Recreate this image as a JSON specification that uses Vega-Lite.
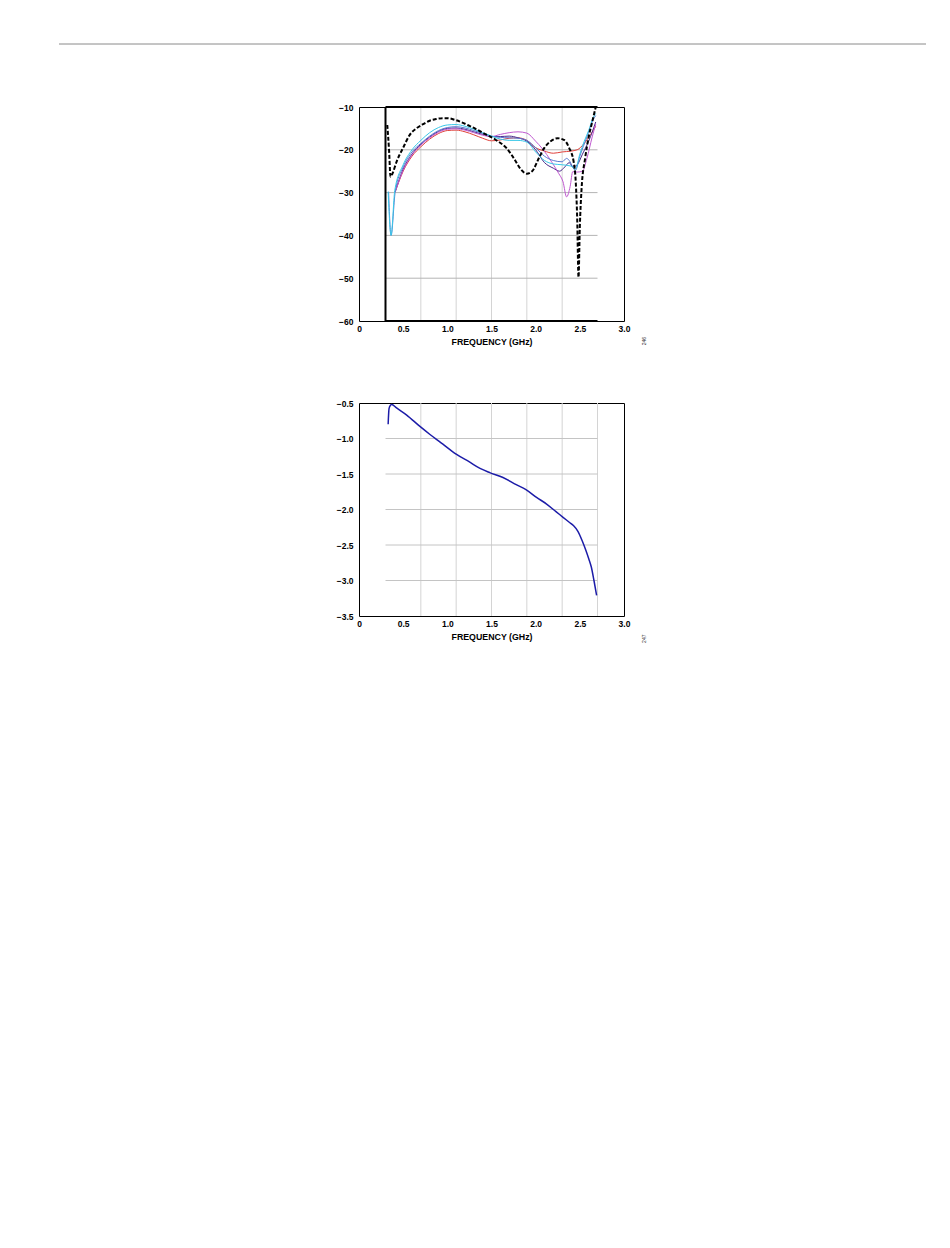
{
  "$schema": "https://vega.github.io/schema/vega-lite/v6.json",
  "padding": {"left": 58, "top": 43, "right": 5, "bottom": 5},
  "background": "white",
  "spacing": 51,
  "datasets": {
    "vgrid1": [{"g": 0.7}, {"g": 1.1}, {"g": 1.5}, {"g": 1.9}, {"g": 2.3}],
    "vgrid2": [{"g": 0.7}, {"g": 1.1}, {"g": 1.5}, {"g": 1.9}, {"g": 2.3}, {"g": 2.7}],
    "hgrid1": [{"g": -20}, {"g": -30}, {"g": -40}, {"g": -50}],
    "hgrid2": [{"g": -1.0}, {"g": -1.5}, {"g": -2.0}, {"g": -2.5}, {"g": -3.0}],
    "frame1": [
      {"x": 0.3, "x2": 2.7, "y": -10, "y2": -10},
      {"x": 0.3, "x2": 2.7, "y": -60, "y2": -60},
      {"x": 0.3, "x2": 0.3, "y": -60, "y2": -10}
    ],
    "s11": [
      {"s": "red", "f": 0.41, "v": -29.8}, {"s": "red", "f": 0.5, "v": -25}, {"s": "red", "f": 0.6, "v": -21.5}, {"s": "red", "f": 0.7, "v": -19.3}, {"s": "red", "f": 0.8, "v": -17.5}, {"s": "red", "f": 0.9, "v": -16.2}, {"s": "red", "f": 1.0, "v": -15.5}, {"s": "red", "f": 1.1, "v": -15.4}, {"s": "red", "f": 1.2, "v": -15.8}, {"s": "red", "f": 1.3, "v": -16.5}, {"s": "red", "f": 1.4, "v": -17.3}, {"s": "red", "f": 1.5, "v": -17.9}, {"s": "red", "f": 1.6, "v": -17.7}, {"s": "red", "f": 1.7, "v": -17.3}, {"s": "red", "f": 1.8, "v": -17.2}, {"s": "red", "f": 1.9, "v": -17.8}, {"s": "red", "f": 2.0, "v": -19.5}, {"s": "red", "f": 2.1, "v": -20.3}, {"s": "red", "f": 2.2, "v": -20.8}, {"s": "red", "f": 2.3, "v": -20.5}, {"s": "red", "f": 2.4, "v": -20.3}, {"s": "red", "f": 2.47, "v": -20}, {"s": "red", "f": 2.55, "v": -18.5}, {"s": "red", "f": 2.62, "v": -16.5}, {"s": "red", "f": 2.68, "v": -14.5},
      {"s": "purple", "f": 0.41, "v": -29.8}, {"s": "purple", "f": 0.5, "v": -24.5}, {"s": "purple", "f": 0.6, "v": -21}, {"s": "purple", "f": 0.7, "v": -18.7}, {"s": "purple", "f": 0.8, "v": -17}, {"s": "purple", "f": 0.9, "v": -15.7}, {"s": "purple", "f": 1.0, "v": -15}, {"s": "purple", "f": 1.1, "v": -14.9}, {"s": "purple", "f": 1.2, "v": -15.2}, {"s": "purple", "f": 1.3, "v": -15.8}, {"s": "purple", "f": 1.4, "v": -16.4}, {"s": "purple", "f": 1.5, "v": -16.9}, {"s": "purple", "f": 1.6, "v": -16.9}, {"s": "purple", "f": 1.7, "v": -16.8}, {"s": "purple", "f": 1.8, "v": -17.2}, {"s": "purple", "f": 1.9, "v": -18}, {"s": "purple", "f": 2.0, "v": -20}, {"s": "purple", "f": 2.1, "v": -23}, {"s": "purple", "f": 2.2, "v": -24.3}, {"s": "purple", "f": 2.27, "v": -25}, {"s": "purple", "f": 2.33, "v": -24}, {"s": "purple", "f": 2.38, "v": -23}, {"s": "purple", "f": 2.42, "v": -24}, {"s": "purple", "f": 2.47, "v": -23.5}, {"s": "purple", "f": 2.53, "v": -21}, {"s": "purple", "f": 2.6, "v": -18}, {"s": "purple", "f": 2.68, "v": -13.5},
      {"s": "magenta", "f": 0.41, "v": -29.8}, {"s": "magenta", "f": 0.5, "v": -24.8}, {"s": "magenta", "f": 0.6, "v": -21.2}, {"s": "magenta", "f": 0.7, "v": -18.9}, {"s": "magenta", "f": 0.8, "v": -17.2}, {"s": "magenta", "f": 0.9, "v": -15.9}, {"s": "magenta", "f": 1.0, "v": -15.2}, {"s": "magenta", "f": 1.1, "v": -15.1}, {"s": "magenta", "f": 1.2, "v": -15.4}, {"s": "magenta", "f": 1.3, "v": -16}, {"s": "magenta", "f": 1.4, "v": -16.6}, {"s": "magenta", "f": 1.5, "v": -16.9}, {"s": "magenta", "f": 1.6, "v": -16.4}, {"s": "magenta", "f": 1.7, "v": -16}, {"s": "magenta", "f": 1.8, "v": -15.8}, {"s": "magenta", "f": 1.9, "v": -16.1}, {"s": "magenta", "f": 2.0, "v": -18}, {"s": "magenta", "f": 2.07, "v": -19.6}, {"s": "magenta", "f": 2.18, "v": -22.8}, {"s": "magenta", "f": 2.26, "v": -25.5}, {"s": "magenta", "f": 2.31, "v": -27.5}, {"s": "magenta", "f": 2.35, "v": -31}, {"s": "magenta", "f": 2.39, "v": -28.6}, {"s": "magenta", "f": 2.42, "v": -25.1}, {"s": "magenta", "f": 2.47, "v": -25.2}, {"s": "magenta", "f": 2.53, "v": -25}, {"s": "magenta", "f": 2.58, "v": -22}, {"s": "magenta", "f": 2.64, "v": -17}, {"s": "magenta", "f": 2.68, "v": -14},
      {"s": "blue", "f": 0.335, "v": -29.8}, {"s": "blue", "f": 0.363, "v": -40}, {"s": "blue", "f": 0.41, "v": -29.8}, {"s": "blue", "f": 0.5, "v": -24}, {"s": "blue", "f": 0.6, "v": -20.5}, {"s": "blue", "f": 0.7, "v": -18.5}, {"s": "blue", "f": 0.8, "v": -16.8}, {"s": "blue", "f": 0.9, "v": -15.5}, {"s": "blue", "f": 1.0, "v": -14.8}, {"s": "blue", "f": 1.1, "v": -14.6}, {"s": "blue", "f": 1.2, "v": -14.9}, {"s": "blue", "f": 1.3, "v": -15.5}, {"s": "blue", "f": 1.4, "v": -16.2}, {"s": "blue", "f": 1.5, "v": -16.8}, {"s": "blue", "f": 1.6, "v": -17.1}, {"s": "blue", "f": 1.7, "v": -17.2}, {"s": "blue", "f": 1.8, "v": -17.3}, {"s": "blue", "f": 1.9, "v": -17.8}, {"s": "blue", "f": 2.0, "v": -19.5}, {"s": "blue", "f": 2.1, "v": -21.5}, {"s": "blue", "f": 2.2, "v": -22.5}, {"s": "blue", "f": 2.3, "v": -22.8}, {"s": "blue", "f": 2.35, "v": -22}, {"s": "blue", "f": 2.38, "v": -22.5}, {"s": "blue", "f": 2.42, "v": -24}, {"s": "blue", "f": 2.45, "v": -24.8}, {"s": "blue", "f": 2.5, "v": -21.5}, {"s": "blue", "f": 2.58, "v": -17}, {"s": "blue", "f": 2.65, "v": -13}, {"s": "blue", "f": 2.68, "v": -12},
      {"s": "cyan", "f": 0.33, "v": -29.8}, {"s": "cyan", "f": 0.363, "v": -40}, {"s": "cyan", "f": 0.405, "v": -29.5}, {"s": "cyan", "f": 0.5, "v": -23.5}, {"s": "cyan", "f": 0.6, "v": -20}, {"s": "cyan", "f": 0.7, "v": -17.8}, {"s": "cyan", "f": 0.8, "v": -16}, {"s": "cyan", "f": 0.9, "v": -14.8}, {"s": "cyan", "f": 1.0, "v": -14.2}, {"s": "cyan", "f": 1.1, "v": -14.1}, {"s": "cyan", "f": 1.2, "v": -14.5}, {"s": "cyan", "f": 1.3, "v": -15.2}, {"s": "cyan", "f": 1.4, "v": -16}, {"s": "cyan", "f": 1.5, "v": -16.8}, {"s": "cyan", "f": 1.6, "v": -17.5}, {"s": "cyan", "f": 1.7, "v": -17.8}, {"s": "cyan", "f": 1.8, "v": -17.8}, {"s": "cyan", "f": 1.9, "v": -18.2}, {"s": "cyan", "f": 2.0, "v": -20.5}, {"s": "cyan", "f": 2.1, "v": -22.5}, {"s": "cyan", "f": 2.2, "v": -23.3}, {"s": "cyan", "f": 2.3, "v": -23.5}, {"s": "cyan", "f": 2.4, "v": -23.8}, {"s": "cyan", "f": 2.45, "v": -24.5}, {"s": "cyan", "f": 2.5, "v": -21}, {"s": "cyan", "f": 2.55, "v": -18}, {"s": "cyan", "f": 2.6, "v": -15.5}, {"s": "cyan", "f": 2.65, "v": -12.5}, {"s": "cyan", "f": 2.68, "v": -11.5},
      {"s": "ref", "f": 0.32, "v": -14.2}, {"s": "ref", "f": 0.34, "v": -20}, {"s": "ref", "f": 0.357, "v": -26.3}, {"s": "ref", "f": 0.38, "v": -25.5}, {"s": "ref", "f": 0.425, "v": -22.8}, {"s": "ref", "f": 0.5, "v": -19.5}, {"s": "ref", "f": 0.575, "v": -16.5}, {"s": "ref", "f": 0.65, "v": -15}, {"s": "ref", "f": 0.726, "v": -14}, {"s": "ref", "f": 0.8, "v": -13.2}, {"s": "ref", "f": 0.876, "v": -12.8}, {"s": "ref", "f": 0.95, "v": -12.6}, {"s": "ref", "f": 1.0, "v": -12.6}, {"s": "ref", "f": 1.1, "v": -13.1}, {"s": "ref", "f": 1.25, "v": -14.4}, {"s": "ref", "f": 1.4, "v": -16}, {"s": "ref", "f": 1.55, "v": -17.7}, {"s": "ref", "f": 1.67, "v": -19.6}, {"s": "ref", "f": 1.76, "v": -22.2}, {"s": "ref", "f": 1.83, "v": -24.5}, {"s": "ref", "f": 1.9, "v": -25.6}, {"s": "ref", "f": 1.96, "v": -25}, {"s": "ref", "f": 2.04, "v": -21.8}, {"s": "ref", "f": 2.1, "v": -19.5}, {"s": "ref", "f": 2.17, "v": -18}, {"s": "ref", "f": 2.25, "v": -17.3}, {"s": "ref", "f": 2.32, "v": -17.7}, {"s": "ref", "f": 2.38, "v": -19.6}, {"s": "ref", "f": 2.43, "v": -22.8}, {"s": "ref", "f": 2.455, "v": -28}, {"s": "ref", "f": 2.47, "v": -36}, {"s": "ref", "f": 2.485, "v": -49.8}, {"s": "ref", "f": 2.5, "v": -38}, {"s": "ref", "f": 2.52, "v": -29}, {"s": "ref", "f": 2.56, "v": -22}, {"s": "ref", "f": 2.6, "v": -17}, {"s": "ref", "f": 2.64, "v": -13.5}, {"s": "ref", "f": 2.68, "v": -10}
    ],
    "loss": [
      {"f": 0.33, "v": -0.8}, {"f": 0.34, "v": -0.58}, {"f": 0.357, "v": -0.53}, {"f": 0.37, "v": -0.52}, {"f": 0.425, "v": -0.57}, {"f": 0.54, "v": -0.67}, {"f": 0.69, "v": -0.83}, {"f": 0.8, "v": -0.94}, {"f": 0.95, "v": -1.08}, {"f": 1.1, "v": -1.22}, {"f": 1.25, "v": -1.33}, {"f": 1.37, "v": -1.42}, {"f": 1.48, "v": -1.48}, {"f": 1.63, "v": -1.55}, {"f": 1.78, "v": -1.65}, {"f": 1.89, "v": -1.72}, {"f": 2.01, "v": -1.83}, {"f": 2.12, "v": -1.92}, {"f": 2.23, "v": -2.03}, {"f": 2.31, "v": -2.11}, {"f": 2.38, "v": -2.18}, {"f": 2.43, "v": -2.23}, {"f": 2.48, "v": -2.31}, {"f": 2.53, "v": -2.45}, {"f": 2.57, "v": -2.58}, {"f": 2.6, "v": -2.69}, {"f": 2.63, "v": -2.81}, {"f": 2.66, "v": -3.0}, {"f": 2.69, "v": -3.21}
    ]
  },
  "vconcat": [
    {
      "width": 567,
      "height": 7,
      "view": {"stroke": null},
      "data": {"values": [{"a": 0}]},
      "mark": {"type": "rule", "color": "#8a8a8a", "strokeWidth": 1},
      "encoding": {
        "x": {"datum": -300, "type": "quantitative", "scale": {"domain": [0, 567], "nice": false, "zero": false}, "axis": null},
        "x2": {"datum": 567},
        "y": {"datum": 1, "type": "quantitative", "scale": {"domain": [0, 1]}, "axis": null}
      }
    },
    {
      "width": 265,
      "height": 214,
      "view": {"stroke": "#000", "strokeWidth": 1},
      "layer": [
        {
          "data": {"name": "vgrid1"},
          "mark": {"type": "rule", "color": "#d4d4d4", "strokeWidth": 1},
          "encoding": {
            "x": {"field": "g", "type": "quantitative", "scale": {"domain": [0, 3], "nice": false, "zero": false},
                  "axis": {"values": [0, 0.5, 1, 1.5, 2, 2.5, 3], "tickCount": 10, "labelExpr": "datum.value == 0 ? '0' : format(datum.value, '.1f')", "title": "FREQUENCY (GHz)", "labelOverlap": false}}
          }
        },
        {
          "data": {"name": "hgrid1"},
          "mark": {"type": "rule", "color": "#b4b4b4", "strokeWidth": 1},
          "encoding": {
            "y": {"field": "g", "type": "quantitative", "scale": {"domain": [-60, -10], "nice": false, "zero": false},
                  "axis": {"values": [-60, -50, -40, -30, -20, -10], "tickCount": 10, "format": "d", "title": null, "labelOverlap": false}},
            "x": {"datum": 0.3, "type": "quantitative"},
            "x2": {"datum": 2.7}
          }
        },
        {
          "data": {"name": "frame1"},
          "mark": {"type": "rule", "color": "#000", "strokeWidth": 2},
          "encoding": {
            "x": {"field": "x", "type": "quantitative"},
            "x2": {"field": "x2"},
            "y": {"field": "y", "type": "quantitative"},
            "y2": {"field": "y2"}
          }
        },
        {
          "data": {"name": "s11"},
          "transform": [{"filter": "datum.s != 'ref'"}],
          "mark": {"type": "line", "strokeWidth": 1, "interpolate": "monotone"},
          "encoding": {
            "x": {"field": "f", "type": "quantitative"},
            "y": {"field": "v", "type": "quantitative"},
            "color": {"field": "s", "type": "nominal",
                      "scale": {"domain": ["red", "purple", "magenta", "blue", "cyan"], "range": ["#e0403a", "#4a2a8a", "#c05ad0", "#5a7ad0", "#38c8e8"]},
                      "legend": null}
          }
        },
        {
          "data": {"name": "s11"},
          "transform": [{"filter": "datum.s == 'ref'"}],
          "mark": {"type": "line", "strokeWidth": 2, "color": "#000", "strokeDash": [4, 2], "interpolate": "monotone"},
          "encoding": {
            "x": {"field": "f", "type": "quantitative"},
            "y": {"field": "v", "type": "quantitative"}
          }
        },
        {
          "data": {"values": [{"t": "246"}]},
          "mark": {"type": "text", "angle": 270, "fontSize": 5, "color": "#333", "font": "Liberation Sans"},
          "encoding": {
            "text": {"field": "t"},
            "x": {"datum": 3.23, "type": "quantitative"},
            "y": {"datum": -64.7, "type": "quantitative"}
          }
        }
      ]
    },
    {
      "width": 265,
      "height": 213,
      "view": {"stroke": "#000", "strokeWidth": 1},
      "layer": [
        {
          "data": {"name": "vgrid2"},
          "mark": {"type": "rule", "color": "#d4d4d4", "strokeWidth": 1},
          "encoding": {
            "x": {"field": "g", "type": "quantitative", "scale": {"domain": [0, 3], "nice": false, "zero": false},
                  "axis": {"values": [0, 0.5, 1, 1.5, 2, 2.5, 3], "tickCount": 10, "labelExpr": "datum.value == 0 ? '0' : format(datum.value, '.1f')", "title": "FREQUENCY (GHz)", "labelOverlap": false}}
          }
        },
        {
          "data": {"name": "hgrid2"},
          "mark": {"type": "rule", "color": "#c4c4c4", "strokeWidth": 1},
          "encoding": {
            "y": {"field": "g", "type": "quantitative", "scale": {"domain": [-3.5, -0.5], "nice": false, "zero": false},
                  "axis": {"values": [-3.5, -3.0, -2.5, -2.0, -1.5, -1.0, -0.5], "tickCount": 10, "format": ".1f", "title": null, "labelOverlap": false}},
            "x": {"datum": 0.3, "type": "quantitative"},
            "x2": {"datum": 2.7}
          }
        },
        {
          "data": {"name": "loss"},
          "mark": {"type": "line", "strokeWidth": 1.5, "color": "#1c1ca8", "interpolate": "monotone"},
          "encoding": {
            "x": {"field": "f", "type": "quantitative"},
            "y": {"field": "v", "type": "quantitative"}
          }
        },
        {
          "data": {"values": [{"t": "247"}]},
          "mark": {"type": "text", "angle": 270, "fontSize": 5, "color": "#333", "font": "Liberation Sans"},
          "encoding": {
            "text": {"field": "t"},
            "x": {"datum": 3.23, "type": "quantitative"},
            "y": {"datum": -3.82, "type": "quantitative"}
          }
        }
      ]
    }
  ],
  "config": {
    "font": "Liberation Sans",
    "axis": {
      "grid": false, "ticks": false, "domain": false,
      "labelFont": "Liberation Sans", "labelFontWeight": "bold", "labelFontSize": 8.5, "labelColor": "#000",
      "titleFont": "Liberation Sans", "titleFontWeight": "bold", "titleFontSize": 8.8, "titleColor": "#000",
      "labelFlush": false, "labelOverlap": false
    },
    "axisY": {"labelPadding": 6},
    "axisX": {"labelPadding": 3, "titlePadding": 5}
  }
}
